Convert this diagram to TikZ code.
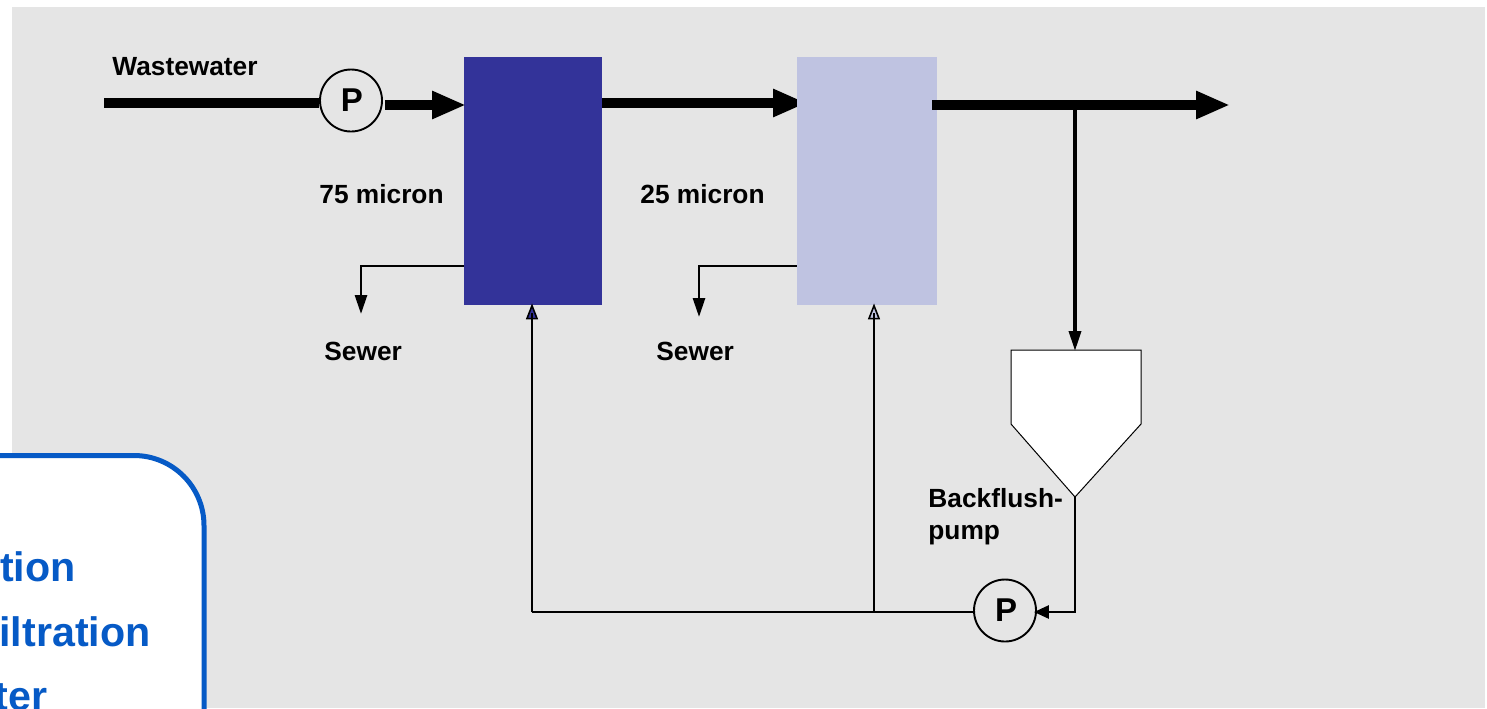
\documentclass[tikz,border=0pt]{standalone}
\usepackage{fontspec}
\setmainfont{Liberation Sans}
\usetikzlibrary{arrows.meta}
\pgfdeclarelayer{under}
\pgfsetlayers{under,main}
\definecolor{panel}{HTML}{E5E5E5}
\definecolor{deepblue}{HTML}{333399}
\definecolor{paleblue}{HTML}{BFC3E1}
\definecolor{calloutblue}{HTML}{065AC6}
\tikzset{
  filterbox/.style={draw=none,minimum height=124pt,inner sep=0pt},
  pumpnode/.style={circle,draw=black,line width=0.95pt,minimum size=31pt,inner sep=0pt,font=\bfseries\fontsize{16.5}{16.5}\selectfont},
  lbl/.style={anchor=base west,inner sep=0pt,font=\bfseries\fontsize{13.15}{13.15}\selectfont},
  bigtxt/.style={anchor=base east,inner sep=0pt,text=calloutblue,font=\bfseries\fontsize{20.6}{20.6}\selectfont},
  mainline/.style={line width=5pt,-{Triangle[length=17pt,width=13pt]}},
  plainmain/.style={line width=5pt},
  drainline/.style={line width=1.4pt,-{Triangle[length=9.5pt,width=6pt]}},
  feedline/.style={line width=1.15pt},
  feedtipA/.style={line width=0.8pt,shorten >=-1pt,-{Triangle[length=8pt,width=6pt,fill=deepblue]}},
  feedtipB/.style={line width=0.8pt,shorten >=-1pt,-{Triangle[length=8pt,width=6pt,fill=paleblue]}},
}
\begin{document}
\begin{tikzpicture}[x=0.5pt,y=-0.5pt]
\clip (0,0) rectangle (1487,708);
% nodes
\node[filterbox,fill=deepblue,minimum width=69pt] (boxA) at (533,181) {};
\node[filterbox,fill=paleblue,minimum width=70pt] (boxB) at (867,181) {};
\node[pumpnode] (pumpA) at (351,100.5) {\raisebox{-1pt}{\hspace{1pt}P}};
\node[pumpnode] (pumpB) at (1005,610.5) {\raisebox{-0.5pt}{\hspace{1pt}P}};
% free ends and junctions
\coordinate (inStart) at (104,103);
\coordinate (pumpOut) at (385,105);
\coordinate (boxAIn) at (466,105);
\coordinate (boxAOut) at (602,103);
\coordinate (boxBIn) at (807,103);
\coordinate (outStart) at (932,105);
\coordinate (outEnd) at (1230,105);
\coordinate (tee) at (1075,105);
\coordinate (tankTop) at (1075,351);
\coordinate (tankTip) at (1075,497);
\coordinate (drainA) at (361,266);
\coordinate (drainAEnd) at (361,314);
\coordinate (drainB) at (699,266);
\coordinate (drainBEnd) at (699,317);
\coordinate (returnCorner) at (1075,612);
\coordinate (feedA) at (532,612);
\coordinate (feedB) at (874,612);
\coordinate (feedAStem) at (532,313);
\coordinate (feedBStem) at (874,313);
\begin{pgfonlayer}{under}
  \fill[white] (0,0) rectangle (1487,708);
  \fill[panel] (12,7) rectangle (1485,708);
  \draw[mainline] (boxAOut) -- (boxBIn);
\end{pgfonlayer}
% thick process lines
\draw[plainmain] (inStart) -- (pumpA.west |- inStart);
\draw[mainline] (pumpOut) -- (boxAIn);
\draw[mainline] (outStart) -- (outEnd);
% drains
\draw[drainline] (boxA.west |- drainA) -- (drainA) -- (drainAEnd);
\draw[drainline] (boxB.west |- drainB) -- (drainB) -- (drainBEnd);
% tank
\draw[fill=white,line width=0.5pt] (1011,350) -- (1141,350) -- (1141,424) -- (tankTip) -- (1011,424) -- cycle;
\draw[line width=1.75pt,-{Triangle[length=10pt,width=6pt]}] (tee) -- (tankTop);
% backflush loop
\draw[line width=1.4pt,shorten >=-1.5pt,-{Triangle[length=7.5pt,width=6.5pt]}] (tankTip) -- (returnCorner) -- (pumpB.east |- returnCorner);
\draw[feedline] (pumpB.west |- feedA) -- (feedA);
\draw[feedtipA] (feedA) -- (boxA.south -| feedA);
\draw[feedline] (feedA) -- (feedAStem);
\draw[feedtipB] (feedB) -- (boxB.south -| feedB);
\draw[feedline] (feedB) -- (feedBStem);
% labels
\node[lbl] (wastewater) at (112,75.5) {Wastewater};
\node[lbl] (microA) at (319,203) {75 micron};
\node[lbl] (microB) at (640,203) {25 micron};
\node[lbl] (sewerA) at (324,360) {Sewer};
\node[lbl] (sewerB) at (656,360) {Sewer};
\node[lbl] (backflushA) at (928,507) {Backflush-};
\node[lbl] (backflushB) at (928,539) {pump};
% callout
\draw[line width=2.5pt,draw=calloutblue,fill=white,rounded corners=35pt] (-80,455.5) rectangle (204,800);
\node[bigtxt] (tionA) at (76,581.5) {tion};
\node[bigtxt] (tionB) at (151,646) {iltration};
\node[bigtxt] (tionC) at (48,710) {ter};
\end{tikzpicture}
\end{document}
